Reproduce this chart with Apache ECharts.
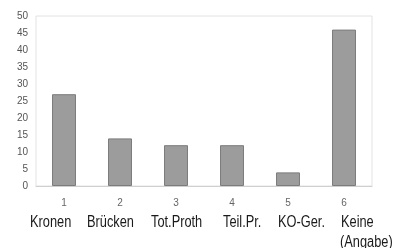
<!DOCTYPE html>
<html>
<head>
<meta charset="utf-8">
<script src="https://cdn.jsdelivr.net/npm/echarts@6/dist/echarts.min.js"></script>
<style>
  html, body { margin: 0; padding: 0; background: #fff; }
  #chart { width: 394px; height: 248px; }
</style>
</head>
<body>
<div id="chart"></div>
<script>
// data
var categories = ['1', '2', '3', '4', '5', '6'];
var values = [27, 14, 12, 12, 4, 46];
var names = ['Kronen', 'Brücken', 'Tot.Proth', 'Teil.Pr.', 'KO-Ger.', 'Keine'];
var yTicks = [0, 5, 10, 15, 20, 25, 30, 35, 40, 45, 50];

var chartDom = document.getElementById('chart');
var myChart = echarts.init(chartDom);
var option;

// left edges of the name labels (they don't sit centered under the bars)
var nameLeft = [30, 87, 151, 223, 278, 341];
var nameFont = '16px "Liberation Sans", Arial, sans-serif';

var graphics = [];
for (var i = 0; i < names.length; i++) {
    graphics.push({
        type: 'text',
        x: nameLeft[i],
        y: 215,
        scaleX: 0.8,
        style: { text: names[i], font: nameFont, fill: '#1a1a1a' }
    });
}
graphics.push({
    type: 'text',
    x: 340,
    y: 235,
    scaleX: 0.8,
    style: { text: '(Angabe)', font: nameFont, fill: '#1a1a1a' }
});

option = {
    animation: false,
    grid: {
        left: 36,
        right: 22,
        top: 16,
        bottom: 62,
        show: true,
        borderColor: '#e2e2e2',
        borderWidth: 1
    },
    xAxis: {
        type: 'category',
        data: categories,
        axisLine: { lineStyle: { color: '#cfcfcf' } },
        axisTick: { show: false },
        axisLabel: {
            margin: 12,
            fontSize: 10,
            color: '#666',
            fontFamily: 'Arial, "Liberation Sans", sans-serif'
        }
    },
    yAxis: {
        type: 'value',
        min: yTicks[0],
        max: yTicks[yTicks.length - 1],
        interval: 5,
        splitLine: { show: false },
        axisLine: { show: false },
        axisTick: { show: false },
        axisLabel: {
            margin: 8,
            fontSize: 10,
            color: '#555',
            fontFamily: 'Arial, "Liberation Sans", sans-serif'
        }
    },
    series: [{
        type: 'bar',
        data: values,
        barWidth: 24,
        itemStyle: {
            color: '#9c9c9c',
            borderColor: '#7c7c7c',
            borderWidth: 1
        }
    }],
    graphic: graphics
};

option && myChart.setOption(option);
</script>
</body>
</html>
